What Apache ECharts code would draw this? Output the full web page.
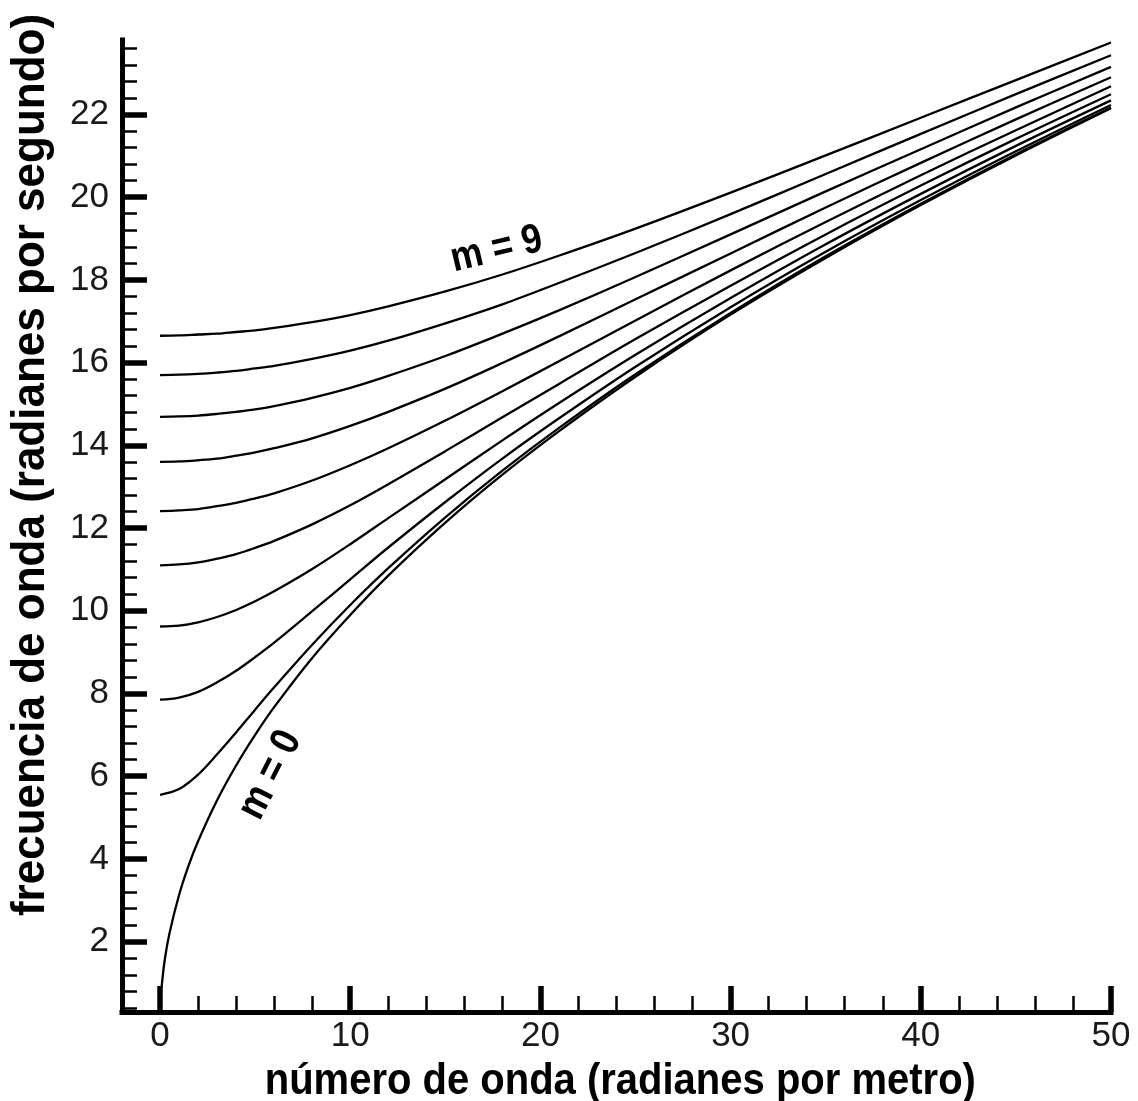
<!DOCTYPE html>
<html>
<head>
<meta charset="utf-8">
<script src="https://cdn.jsdelivr.net/npm/echarts@6/dist/echarts.min.js"></script>
<style>
  html, body { margin: 0; padding: 0; background: #ffffff; }
  #chart { width: 1138px; height: 1101px; }
</style>
</head>
<body>
<div id="chart"></div>
<script>
// ---- Data ----
// wave number samples (radianes por metro)
const kModeZero = [0.08, 0.25, 0.5, 1, 1.5, 2, 3, 4, 5, 6, 8, 10, 12, 15, 18, 21, 25, 30, 35, 40, 45, 50];
const kModes = [0, 1, 2, 3, 4, 5, 6, 8, 10, 12, 15, 18, 21, 25, 30, 35, 40, 45, 50];

// frequency (radianes por segundo) for each mode m
const omegaM0 = [0.89, 1.57, 2.21, 3.13, 3.84, 4.43, 5.42, 6.26, 7.00, 7.67, 8.86, 9.90, 10.85, 12.13, 13.29, 14.35, 15.66, 17.16, 18.53, 19.81, 21.01, 22.15];
const omegaM1 = [5.55, 5.69, 6.04, 6.53, 7.06, 7.61, 8.15, 9.18, 10.14, 11.03, 12.26, 13.39, 14.43, 15.72, 17.20, 18.57, 19.84, 21.04, 22.17];
const omegaM2 = [7.85, 7.90, 8.04, 8.27, 8.55, 8.88, 9.23, 9.99, 10.76, 11.53, 12.63, 13.68, 14.66, 15.90, 17.34, 18.68, 19.93, 21.11, 22.23];
const omegaM3 = [9.62, 9.64, 9.72, 9.85, 10.02, 10.23, 10.47, 11.01, 11.61, 12.24, 13.18, 14.12, 15.03, 16.19, 17.56, 18.86, 20.08, 21.24, 22.34];
const omegaM4 = [11.10, 11.12, 11.17, 11.26, 11.37, 11.52, 11.69, 12.09, 12.55, 13.06, 13.86, 14.68, 15.49, 16.57, 17.86, 19.10, 20.28, 21.41, 22.49];
const omegaM5 = [12.41, 12.43, 12.46, 12.53, 12.61, 12.72, 12.84, 13.15, 13.52, 13.93, 14.60, 15.31, 16.04, 17.02, 18.23, 19.40, 20.53, 21.62, 22.68];
const omegaM6 = [13.60, 13.61, 13.64, 13.68, 13.75, 13.83, 13.93, 14.17, 14.47, 14.81, 15.37, 15.99, 16.64, 17.53, 18.64, 19.75, 20.83, 21.88, 22.90];
const omegaM7 = [14.69, 14.70, 14.72, 14.76, 14.81, 14.87, 14.95, 15.15, 15.39, 15.68, 16.16, 16.70, 17.27, 18.07, 19.10, 20.14, 21.16, 22.17, 23.15];
const omegaM8 = [15.70, 15.71, 15.73, 15.76, 15.80, 15.86, 15.92, 16.09, 16.29, 16.53, 16.95, 17.41, 17.93, 18.65, 19.59, 20.56, 21.53, 22.49, 23.43];
const omegaM9 = [16.65, 16.66, 16.68, 16.70, 16.74, 16.78, 16.84, 16.98, 17.15, 17.36, 17.72, 18.13, 18.59, 19.24, 20.11, 21.01, 21.92, 22.83, 23.74];

// axis ticks and labels
const xMajorTicks = [0, 10, 20, 30, 40, 50];
const xMinorTicks = [2, 4, 6, 8, 12, 14, 16, 18, 22, 24, 26, 28, 32, 34, 36, 38, 42, 44, 46, 48];
const yMajorTicks = [2, 4, 6, 8, 10, 12, 14, 16, 18, 20, 22];
const yMinorTicks = [0.4, 0.8, 1.2, 1.6, 2.4, 2.8, 3.2, 3.6, 4.4, 4.8, 5.2, 5.6, 6.4, 6.8, 7.2, 7.6,
  8.4, 8.8, 9.2, 9.6, 10.4, 10.8, 11.2, 11.6, 12.4, 12.8, 13.2, 13.6, 14.4, 14.8, 15.2, 15.6,
  16.4, 16.8, 17.2, 17.6, 18.4, 18.8, 19.2, 19.6, 20.4, 20.8, 21.2, 21.6, 22.4, 22.8, 23.2, 23.6];

const xTitle = 'número de onda (radianes por metro)';
const yTitle = 'frecuencia de onda (radianes por segundo)';
const labelTop = { text: 'm = 9', x: 17.7, y: 18.73 };
const labelBottom = { text: 'm = 0', x: 5.8, y: 6.03 };

// ---- Build series ----
const modeOmegas = [omegaM1, omegaM2, omegaM3, omegaM4, omegaM5, omegaM6, omegaM7, omegaM8, omegaM9];
function pairs(xs, ys) { return xs.map((x, i) => [x, ys[i]]); }
const lineStyle = { color: '#000000', width: 2.3 };
const series = [{
  type: 'line', data: pairs(kModeZero, omegaM0), smooth: 0.35,
  symbol: 'none', lineStyle: lineStyle, silent: true
}].concat(modeOmegas.map(ys => ({
  type: 'line', data: pairs(kModes, ys), smooth: 0.35,
  symbol: 'none', lineStyle: lineStyle, silent: true
})));

const FONT = '"Liberation Sans", Arial, sans-serif';
const axisLine = { show: true, onZero: false, lineStyle: { color: '#000', width: 5, cap: 'square' } };

const chart = echarts.init(document.getElementById('chart'), null, { renderer: 'canvas' });
chart.setOption({
  animation: false,
  backgroundColor: '#ffffff',
  grid: { left: 122, top: 40, width: 989, height: 972, containLabel: false },
  xAxis: [{
    type: 'value', min: -2, max: 50, position: 'bottom',
    axisLine: axisLine,
    axisTick: { show: true, inside: true, length: 26, customValues: xMajorTicks, lineStyle: { color: '#000', width: 5.5 } },
    axisLabel: { show: true, customValues: xMajorTicks, margin: 7, color: '#1a1a1a', fontSize: 35, fontFamily: FONT },
    splitLine: { show: false }
  }, {
    type: 'value', min: -2, max: 50, position: 'bottom', offset: 0,
    axisLine: { show: false, onZero: false },
    axisTick: { show: true, inside: true, length: 16, customValues: xMinorTicks, lineStyle: { color: '#000', width: 2.5 } },
    axisLabel: { show: false },
    splitLine: { show: false }
  }],
  yAxis: [{
    type: 'value', min: 0.3, max: 23.8, position: 'left',
    axisLine: axisLine,
    axisTick: { show: true, inside: true, length: 25, customValues: yMajorTicks, lineStyle: { color: '#000', width: 5.5 } },
    axisLabel: { show: true, customValues: yMajorTicks, margin: 13, color: '#1a1a1a', fontSize: 35, fontFamily: FONT },
    splitLine: { show: false }
  }, {
    type: 'value', min: 0.3, max: 23.8, position: 'left', offset: 0,
    axisLine: { show: false, onZero: false },
    axisTick: { show: true, inside: true, length: 15, customValues: yMinorTicks, lineStyle: { color: '#000', width: 2.5 } },
    axisLabel: { show: false },
    splitLine: { show: false }
  }],
  series: series
});

function placeLabels() {
  const p9 = chart.convertToPixel({ xAxisIndex: 0, yAxisIndex: 0 }, [labelTop.x, labelTop.y]);
  const p0 = chart.convertToPixel({ xAxisIndex: 0, yAxisIndex: 0 }, [labelBottom.x, labelBottom.y]);
  const gx = chart.convertToPixel({ xAxisIndex: 0 }, 24.2);
  chart.setOption({
    graphic: [
      { type: 'text', x: gx, y: 1082, scaleY: 1.12, z: 10,
        style: { text: xTitle, font: 'bold 40px ' + FONT, fill: '#000', align: 'center', verticalAlign: 'middle' } },
      { type: 'text', x: 31, y: 465, rotation: Math.PI / 2, scaleY: 1.05, z: 10,
        style: { text: yTitle, font: 'bold 44px ' + FONT, fill: '#000', align: 'center', verticalAlign: 'middle' } },
      { type: 'text', x: p9[0], y: p9[1], rotation: 13.3 * Math.PI / 180, scaleY: 1.15, z: 10,
        style: { text: labelTop.text, font: 'bold 36px ' + FONT, fill: '#000', align: 'center', verticalAlign: 'middle' } },
      { type: 'text', x: p0[0], y: p0[1], rotation: 63 * Math.PI / 180, scaleY: 1.15, z: 10,
        style: { text: labelBottom.text, font: 'bold 36px ' + FONT, fill: '#000', align: 'center', verticalAlign: 'middle' } }
    ]
  });
}
placeLabels();
</script>
</body>
</html>
